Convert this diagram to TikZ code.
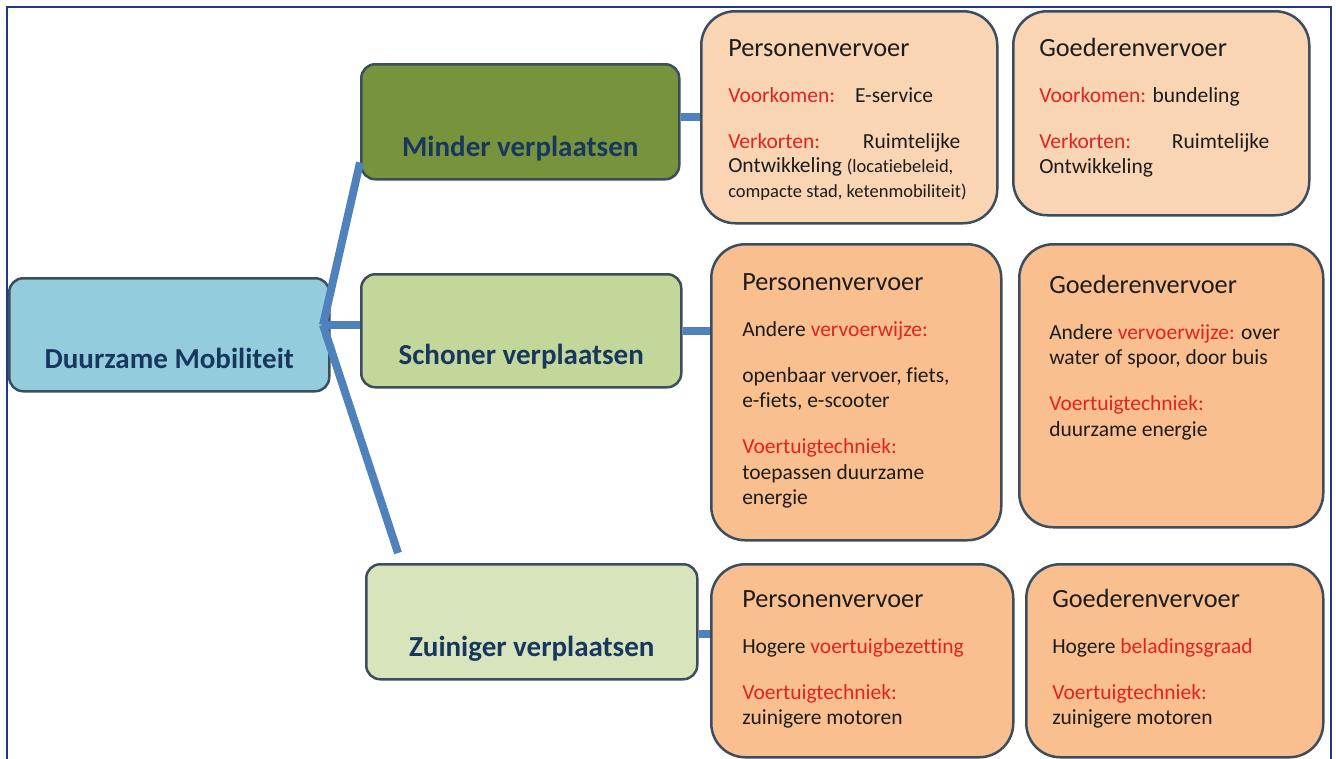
\documentclass[tikz,border=0pt]{standalone}
\usepackage{xcolor}
\usepackage{fontspec}
\setmainfont{Carlito}[Ligatures={NoCommon,NoContextual}]
\usepackage{tikz}

\definecolor{kader}{HTML}{1F3A8A}
\definecolor{lijn}{HTML}{4F81BD}
\definecolor{rand}{HTML}{3C4D5E}
\definecolor{blauwvak}{HTML}{93CDDD}
\definecolor{olijf}{HTML}{77933C}
\definecolor{lichtgroen}{HTML}{C4D79B}
\definecolor{bleekgroen}{HTML}{D8E4BC}
\definecolor{perzik}{HTML}{FAD5B4}
\definecolor{oranje}{HTML}{F9BF8F}
\definecolor{navy}{HTML}{17375E}
\definecolor{rood}{HTML}{E3231F}
\definecolor{tekst}{HTML}{1C1C1C}

\newcommand{\rd}[1]{\textcolor{rood}{#1}}
\newcommand{\kop}{\fontsize{26.3}{25.5}\selectfont}
\newcommand{\klein}{\fontsize{18.5}{24}\selectfont}
\newcommand{\vakinhoud}[3]{\parbox[c][#1][t]{#2}{\raggedright\setlength{\parskip}{20.5pt}#3}}

\begin{document}
\begin{tikzpicture}[x=1pt,y=-1pt,
	hoofd/.style={draw=rand, line width=2.5pt, rounded corners=14pt, inner sep=0pt,
		text height=90pt, text depth=23pt, text=navy, anchor=north west,
		font=\fontsize{29}{32}\selectfont\bfseries},
	vak/.style={draw=rand, line width=2.5pt, rounded corners=34pt, inner sep=0pt,
		anchor=north west, text=tekst, font=\fontsize{21.5}{25.5}\selectfont},
	tak/.style={draw=lijn, line width=8pt}]
	\useasboundingbox (0,0) rectangle (1336,758);
	
	% Kader
	\draw[kader, line width=2.5pt] (7,780) -- (7,7) -- (1331,7) -- (1331,780);
	
	% Hoofdvakken
	\node[hoofd, fill=blauwvak, minimum width=320pt] (dm) at (8,277) {Duurzame Mobiliteit};
	\node[hoofd, fill=olijf, minimum width=318pt, text height=92pt] (minder) at (360,63) {Minder verplaatsen};
	\node[hoofd, fill=lichtgroen, minimum width=320pt] (schoner) at (360,273) {Schoner verplaatsen};
	\node[hoofd, fill=bleekgroen, minimum width=331pt, text height=92pt] (zuiniger) at (365,563) {Zuiniger verplaatsen};
	
	% Minder verplaatsen
	\node[vak, fill=perzik, minimum width=296pt, minimum height=212pt] (mp) at (700,10)
		{\vakinhoud{212pt}{242pt}{{\kop\rule{0pt}{45pt}Personenvervoer\par}
		\rd{Voorkomen:}\hspace*{20pt}E-service\par
		\makebox[232pt][l]{\rd{Verkorten:}\hfill Ruimtelijke}\\
		Ontwikkeling {\klein (locatiebeleid,\\ compacte stad, ketenmobiliteit)}}};
	\node[vak, fill=perzik, minimum width=296pt, minimum height=204pt] (mg) at (1012,10)
		{\vakinhoud{204pt}{244pt}{{\kop\rule{0pt}{45pt}Goederenvervoer\par}
		\rd{Voorkomen:} bundeling\par
		\makebox[230pt][l]{\rd{Verkorten:}\hfill Ruimtelijke}\\
		Ontwikkeling}};
	
	% Schoner verplaatsen
	\node[vak, fill=oranje, minimum width=290pt, minimum height=296pt] (sp) at (710,243)
		{\vakinhoud{296pt}{228pt}{{\kop\rule{0pt}{46pt}Personenvervoer\par}
		Andere \rd{vervoerwijze:}\par
		openbaar vervoer, fiets,\\ e-fiets, e-scooter\par
		\rd{Voertuigtechniek:}\\ toepassen duurzame\\ energie}};
	\node[vak, fill=oranje, minimum width=304pt, minimum height=283pt] (sg) at (1018,243)
		{\vakinhoud{283pt}{244pt}{{\kop\rule{0pt}{49pt}Goederenvervoer\par}
		Andere \rd{vervoerwijze:} over\\ water of spoor, door buis\par
		\rd{Voertuigtechniek:}\\ duurzame energie}};
	
	% Zuiniger verplaatsen
	\node[vak, fill=oranje, minimum width=302pt, minimum height=193pt] (zp) at (710,563)
		{\vakinhoud{193pt}{240pt}{{\kop\rule{0pt}{43pt}Personenvervoer\par}
		Hogere \rd{voertuigbezetting}\par
		\rd{Voertuigtechniek:}\\ zuinigere motoren}};
	\node[vak, fill=oranje, minimum width=297pt, minimum height=193pt] (zg) at (1025,563)
		{\vakinhoud{193pt}{245pt}{{\kop\rule{0pt}{43pt}Goederenvervoer\par}
		Hogere \rd{beladingsgraad}\par
		\rd{Voertuigtechniek:}\\ zuinigere motoren}};
	
	% Takken
	\coordinate (knoop) at (323,325);
	\coordinate (eind) at (398,553);
	\draw[tak] (knoop) -- ([yshift=18pt]minder.south west);
	\draw[tak] (knoop) -- (knoop -| schoner.west);
	\draw[tak] (knoop) -- (eind);
	
	\draw[tak] (mp.west -| minder.east) -- (mp.west);
	\draw[tak] (schoner.east) -- (schoner.east -| sp.west);
	\coordinate (zs) at ([yshift=-12pt]zuiniger.east);
	\draw[tak] (zs) -- (zs -| zp.west);
\end{tikzpicture}
\end{document}
